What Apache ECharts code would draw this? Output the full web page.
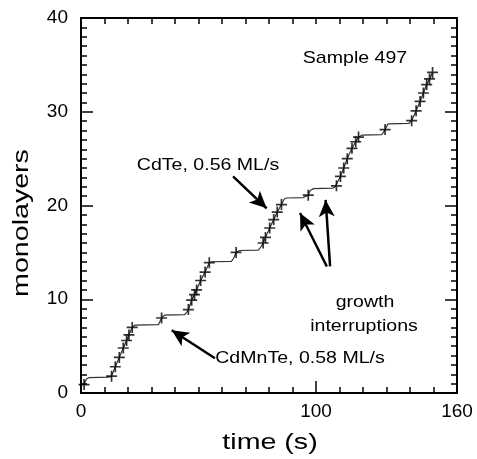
<!DOCTYPE html>
<html><head><meta charset="utf-8">
<script src="https://cdn.jsdelivr.net/npm/echarts@6/dist/echarts.min.js"></script>
<style>html,body{margin:0;padding:0;background:#fff}#c{width:477px;height:459px}</style>
</head><body><div id="c"></div>
<script>
// measured crosses (time s, monolayers)
const crossT = [1.3, 13.0,14.6,16.3,18.0,19.4,20.4,21.8, 34.3, 45.7,47.1,48.3,49.2,50.9,52.8,54.6, 66.0, 77.5,78.5,80.3,82.0,83.5,85.3, 96.7, 108.7,110.4,111.8,113.3,115.3,116.9,118.1, 129.4, 140.7,142.6,144.3,145.7,147.1,148.3,149.6];
const crossY = [0.9, 1.8,2.8,3.8,4.8,5.6,6.2,7.0, 8.0, 8.9,9.9,10.5,11.0,12.0,12.9,13.9, 15.0, 16.0,16.6,17.6,18.5,19.3,20.1, 21.1, 22.1,23.1,24.0,25.0,26.1,26.8,27.3, 28.1, 29.05,30.1,31.1,32.0,32.9,33.5,34.2];
// measured growth curve
const lineT = [1.3,2.3,3.5,12.0,13.0,14.6,16.3,18.0,19.4,20.4,21.8,23.0,33.0,34.3,35.5,44.0,45.0,45.7,47.1,49.2,50.9,52.8,54.6,56.0,64.0,65.0,66.0,67.5,75.5,76.6,77.5,78.5,80.3,82.0,83.5,85.3,86.5,87.5,94.5,95.8,96.7,97.5,99.0,107.0,108.0,108.7,110.4,111.8,113.3,115.3,116.9,118.1,119.5,128.0,129.4,130.6,139.5,140.7,142.6,144.3,145.7,147.1,148.3,149.6];
const lineY = [0.9,1.5,1.65,1.7,1.8,2.8,3.8,4.8,5.6,6.2,7.0,7.25,7.3,8.0,8.3,8.35,8.6,8.9,9.9,11.0,12.0,12.9,13.9,14.0,14.05,14.4,15.0,15.2,15.25,15.6,16.0,16.6,17.6,18.5,19.3,20.1,20.7,20.8,20.85,21.0,21.1,21.6,21.8,21.85,21.95,22.1,23.1,24.0,25.0,26.1,26.8,27.3,27.5,27.55,28.1,28.7,28.75,29.05,30.1,31.1,32.0,32.9,33.5,34.2];
const xTickLabels = [0, 100, 160];
const yTickLabels = [0, 10, 20, 30, 40];
// annotation arrows [start, end] in data coordinates
const arrows = [
  [[64.7,23.1],[79.0,19.7]],
  [[104.6,13.5],[93.2,19.2]],
  [[106.0,13.5],[104.1,20.6]],
  [[57.0,3.7],[38.6,6.7]]
];

const minorX = []; for (let v = 0; v <= 160; v += 10) minorX.push(v);
const FONT = 'Liberation Sans';
const chart = echarts.init(document.getElementById('c'), null, {renderer: 'canvas'});
const axisLineStyle = {color: '#000', width: 2};
const tickStyle = {color: '#000', width: 1.5};
const noZeroLine = {show: true, onZero: false, lineStyle: axisLineStyle};
function txt(x, y, text, size, sx, rot) {
  return {type: 'text', x: x, y: y, scaleX: sx, rotation: rot || 0,
    style: {text: text, fontFamily: FONT, fontSize: size, fill: '#000', align: 'center', verticalAlign: 'middle'}};
}
chart.setOption({
  animation: false,
  backgroundColor: '#fff',
  grid: {left: 81, right: 20, top: 18, bottom: 66},
  xAxis: [
    {type: 'value', min: 0, max: 160, position: 'bottom',
     axisLine: noZeroLine,
     axisTick: {show: true, inside: true, length: 6, customValues: minorX, lineStyle: tickStyle},
     axisLabel: {show: true, customValues: xTickLabels, fontFamily: FONT, fontSize: 19, color: '#000', margin: 9},
     splitLine: {show: false}},
    {type: 'value', min: 0, max: 160, position: 'bottom',
     axisLine: {show: false, onZero: false},
     axisTick: {show: true, inside: true, length: 12, customValues: xTickLabels, lineStyle: tickStyle},
     axisLabel: {show: false}, splitLine: {show: false}},
    {type: 'value', min: 0, max: 160, position: 'top',
     axisLine: noZeroLine,
     axisTick: {show: true, inside: true, length: 6, customValues: minorX, lineStyle: tickStyle},
     axisLabel: {show: false}, splitLine: {show: false}}
  ],
  yAxis: [
    {type: 'value', min: 0, max: 40, interval: 10, position: 'left',
     axisLine: noZeroLine,
     axisTick: {show: true, inside: true, length: 12, lineStyle: tickStyle},
     minorTick: {show: true, splitNumber: 10, length: 6, lineStyle: tickStyle},
     axisLabel: {show: true, customValues: yTickLabels, fontFamily: FONT, fontSize: 19, color: '#000', margin: 13},
     splitLine: {show: false}, minorSplitLine: {show: false}},
    {type: 'value', min: 0, max: 40, interval: 10, position: 'right',
     axisLine: noZeroLine,
     axisTick: {show: true, inside: true, length: 12, lineStyle: tickStyle},
     minorTick: {show: true, splitNumber: 10, length: 6, lineStyle: tickStyle},
     axisLabel: {show: false}, splitLine: {show: false}}
  ],
  series: [
    {type: 'line', xAxisIndex: 0, yAxisIndex: 0, data: lineT.map((t, i) => [t, lineY[i]]),
     showSymbol: false, symbol: 'none', lineStyle: {color: '#333', width: 1.2}, z: 2,
     markLine: {silent: true, symbol: ['none', 'arrow'], symbolSize: [12, 17],
       label: {show: false}, lineStyle: {color: '#000', width: 2.5, type: 'solid'},
       data: arrows.map(a => [{coord: a[0]}, {coord: a[1]}])}},
    {type: 'scatter', xAxisIndex: 0, yAxisIndex: 0, data: crossT.map((t, i) => [t, crossY[i]]),
     symbol: 'path://M0,5L10,5M5,0L5,10', symbolSize: 11,
     itemStyle: {color: 'none', borderColor: '#000', borderWidth: 1.7}, z: 3}
  ],
  graphic: [
    txt(270, 443, 'time (s)', 22, 1.3, 0),
    txt(22, 223, 'monolayers', 22, 1.3, Math.PI / 2),
    txt(355, 58, 'Sample 497', 17, 1.15),
    txt(208, 165, 'CdTe, 0.56 ML/s', 17, 1.15),
    txt(365, 302, 'growth', 17, 1.15),
    txt(364, 326, 'interruptions', 17, 1.15),
    txt(300, 358, 'CdMnTe, 0.58 ML/s', 17, 1.15)
  ]
});
</script></body></html>
